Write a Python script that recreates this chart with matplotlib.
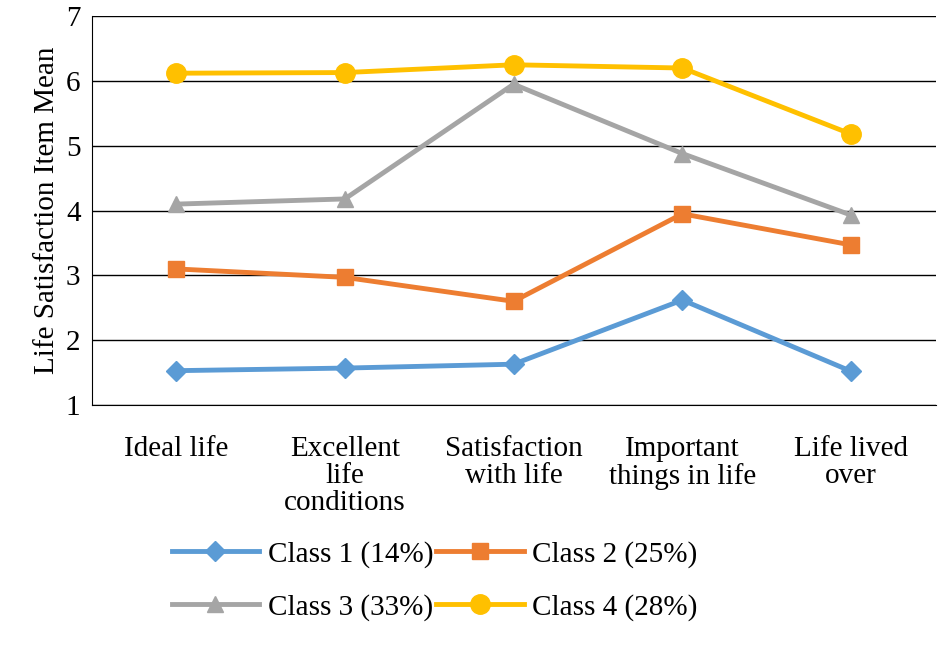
import matplotlib
matplotlib.use("Agg")
import matplotlib.pyplot as plt

plt.rcParams['font.family'] = ['Liberation Serif', 'DejaVu Serif']

categories = ["Ideal life", "Excellent\nlife\nconditions", "Satisfaction\nwith life",
              "Important\nthings in life", "Life lived\nover"]
class1 = [1.53, 1.57, 1.63, 2.62, 1.52]
class2 = [3.10, 2.97, 2.60, 3.95, 3.47]
class3 = [4.10, 4.18, 5.95, 4.88, 3.93]
class4 = [6.12, 6.13, 6.25, 6.20, 5.18]
labels = ["Class 1 (14%)", "Class 2 (25%)", "Class 3 (33%)", "Class 4 (28%)"]
colors = ["#5B9BD5", "#ED7D31", "#A5A5A5", "#FFC000"]
markers = ["D", "s", "^", "o"]
sizes = [10, 11, 12, 14]

fig = plt.figure(figsize=(9.45, 6.47), dpi=100)
ax = fig.add_axes([0.097, 0.374, 0.893, 0.601])
x = range(len(categories))
handles = []
for s, lab, c, m, ms in zip([class1, class2, class3, class4], labels, colors, markers, sizes):
    h, = ax.plot(x, s, color=c, marker=m, markersize=ms, linewidth=3.5, label=lab)
    handles.append(h)
ax.set_xlim(-0.5, 4.5)
ax.set_ylim(1, 7)
ax.set_yticks(range(1, 8))
ax.yaxis.grid(True, color="black", linewidth=1)
ax.set_axisbelow(True)
for sp in ["top", "right"]:
    ax.spines[sp].set_visible(False)
ax.set_xticks(list(x))
ax.set_xticklabels(categories, fontsize=21, va="top", linespacing=1.05)
ax.tick_params(axis="x", length=0, pad=22)
ax.tick_params(axis="y", labelsize=21, length=0, pad=8)
ax.set_ylabel("Life Satisfaction Item Mean", fontsize=21)
order = [0, 2, 1, 3]
fig.legend([handles[i] for i in order], [labels[i] for i in order],
           loc="lower center", bbox_to_anchor=(0.46, 0.0), ncol=2, frameon=False,
           fontsize=21, handlelength=3, columnspacing=0.1, handletextpad=0.3,
           labelspacing=0.9)
fig.savefig("out.png", dpi=100)
